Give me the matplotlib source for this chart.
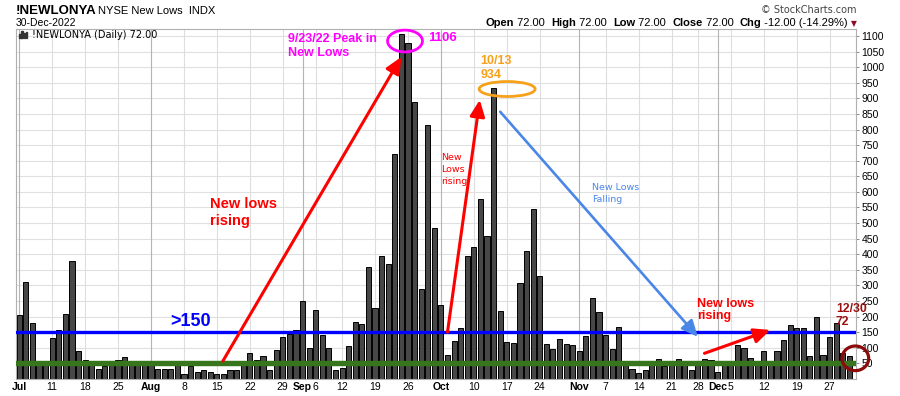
import matplotlib
matplotlib.use("Agg")
import matplotlib.pyplot as plt
from matplotlib.patches import Ellipse, Rectangle

# ---------------- data ----------------
month_names = ["Jul", "Aug", "Sep", "Oct", "Nov", "Dec"]
jul_days = [1, 5, 6, 7, 8, 11, 12, 13, 14, 15, 18, 19, 20, 21, 22, 25, 26, 27, 28, 29]
aug_days = [1, 2, 3, 4, 5, 8, 9, 10, 11, 12, 15, 16, 17, 18, 19, 22, 23, 24, 25, 26, 29, 30, 31]
sep_days = [1, 2, 6, 7, 8, 9, 12, 13, 14, 15, 16, 19, 20, 21, 22, 23, 26, 27, 28, 29, 30]
oct_days = [3, 4, 5, 6, 7, 10, 11, 12, 13, 14, 17, 18, 19, 20, 21, 24, 25, 26, 27, 28, 31]
nov_days = [1, 2, 3, 4, 7, 8, 9, 10, 11, 14, 15, 16, 17, 18, 21, 22, 23, 25, 28, 29, 30]
dec_days = [1, 2, 5, 6, 7, 8, 9, 12, 13, 14, 15, 16, 19, 20, 21, 22, 23, 27, 28, 29, 30]

jul_vals = [204, 310, 178, 50, 50, 130, 156, 207, 378, 89, 60, 50, 31, 40, 50, 60, 69, 50, 50, 50]
aug_vals = [50, 31, 33, 33, 45, 17, 40, 21, 28, 21, 17, 17, 30, 27, 50, 84, 60, 72, 30, 94, 133, 143, 158]
sep_vals = [249, 98, 220, 140, 98, 28, 35, 105, 182, 175, 358, 227, 393, 368, 721, 1106, 1077, 888, 290, 816, 483]
oct_vals = [236, 76, 121, 162, 393, 422, 576, 460, 934, 217, 117, 114, 307, 409, 545, 329, 111, 95, 127, 111, 108]
nov_vals = [89, 139, 261, 214, 142, 95, 165, 50, 32, 20, 27, 50, 65, 40, 50, 65, 50, 27, 50, 65, 62]
dec_vals = [23, 50, 50, 110, 100, 68, 59, 88, 50, 88, 124, 174, 162, 162, 72, 197, 78, 133, 178, 84, 72]

tick_labels = ["Jul", "11", "18", "25", "Aug", "8", "15", "22", "29", "Sep", "6", "12", "19", "26",
               "Oct", "10", "17", "24", "Nov", "7", "14", "21", "28", "Dec", "5", "12", "19", "27"]
tick_dates = [(7, 1), (7, 11), (7, 18), (7, 25), (8, 1), (8, 8), (8, 15), (8, 22), (8, 29),
              (9, 1), (9, 6), (9, 12), (9, 19), (9, 26), (10, 3), (10, 10), (10, 17), (10, 24),
              (11, 1), (11, 7), (11, 14), (11, 21), (11, 28), (12, 1), (12, 5), (12, 12),
              (12, 19), (12, 27)]

level_high = 150
level_low = 50
peak_date = (9, 23)
second_peak_date = (10, 13)

# ---------------- build ----------------
all_days = [jul_days, aug_days, sep_days, oct_days, nov_days, dec_days]
all_vals = [jul_vals, aug_vals, sep_vals, oct_vals, nov_vals, dec_vals]
dates, values = [], []
for m, (dl, vl) in enumerate(zip(all_days, all_vals)):
    for d, v in zip(dl, vl):
        dates.append((m + 7, d))
        values.append(v)
xs = list(range(len(values)))
idx = {d: i for i, d in enumerate(dates)}

W, H = 900, 396
fig = plt.figure(figsize=(W / 100, H / 100), dpi=100)
ax_l, ax_r, ax_t, ax_b = 16, 856, 29.3, 378.9
ax = fig.add_axes([ax_l / W, 1 - ax_b / H, (ax_r - ax_l) / W, (ax_b - ax_t) / H])

SANS = ["Liberation Sans", "DejaVu Sans"]
VERD = ["DejaVu Sans"]

ax.set_xlim(-0.49, 127.0)
ax.set_ylim(0, 1121.6)

# grid
yt = list(range(50, 1101, 50))
for y in yt:
    ax.axhline(y, color="#e0e0e0", lw=0.8, zorder=0)
tick_pos = [idx[d] for d in tick_dates]
for p, lab in zip(tick_pos, tick_labels):
    col = "#b4b4b4" if lab in month_names else "#dedede"
    ax.axvline(p, color=col, lw=0.8, zorder=0)

ax.bar(xs, values, width=0.78, color="#474747", edgecolor="black", linewidth=0.7, zorder=2)

ax.axhline(level_high, color="#0000ff", lw=2.4, zorder=3)
ax.axhline(level_low, color="#38761d", lw=3.9, zorder=3)

# axes styling
for s in ax.spines.values():
    s.set_color("#b0b0b0")
    s.set_linewidth(0.8)
ax.yaxis.tick_right()
ax.set_yticks(yt)
ax.set_yticklabels([str(v) for v in yt], fontfamily=SANS, fontsize=7.5)
ax.tick_params(axis="y", direction="out", length=2.5, width=0.6, color="#777", pad=1.5)
ax.set_xticks(tick_pos)
ax.set_xticklabels(tick_labels, fontfamily=SANS, fontsize=7.5)
ax.tick_params(axis="x", length=0, pad=2.0)
for t in ax.get_xticklabels():
    if t.get_text() in month_names:
        t.set_fontweight("bold")


def arrow(x0, y0, x1, y1, color, lw):
    ax.annotate("", xy=(x1, y1), xytext=(x0, y0),
                arrowprops=dict(arrowstyle="-|>,head_length=0.7,head_width=0.32", color=color,
                                lw=lw, mutation_scale=14, shrinkA=0, shrinkB=0),
                annotation_clip=False, zorder=5)


pk = idx[peak_date]
pk2 = idx[second_peak_date]
last = len(values) - 1

arrow(30.9, 57, pk, 1033, "#ff0000", 2.2)
arrow(65.0, level_high, 69.9, 895, "#ff0000", 2.2)
arrow(73.0, 857, 103.0, 135, "#4a86e8", 1.9)
arrow(104.0, 82, 114.0, 157, "#ff0000", 2.2)

ax.add_patch(Ellipse((pk + 0.55, values[pk] - 22), 5.3, 70, fill=False, ec="#ff00ff", lw=2.0,
                     zorder=5, clip_on=False))
ax.add_patch(Ellipse((pk2 + 2.05, values[pk2] - 4), 8.5, 48, fill=False, ec="#f7a11a", lw=2.0,
                     zorder=5, clip_on=False))
ax.add_patch(Ellipse((last + 0.9, values[last] - 6), 4.05, 79, fill=False, ec="#8b0a0a", lw=2.3,
                     zorder=5, clip_on=False))


def ftext(xp, yp, s, **kw):
    kw.setdefault("va", "baseline")
    kw.setdefault("fontfamily", SANS)
    return fig.text(xp / W, 1 - yp / H, s, **kw)


# header
ftext(16, 13.5, "!NEWLONYA", fontweight="bold", fontsize=9.5)
ftext(97.5, 13.5, "NYSE New Lows  INDX", fontsize=8)
ftext(16, 26.3, "30-Dec-2022", fontsize=7.5)
ftext(32.3, 37.8, "!NEWLONYA (Daily) 72.00", fontsize=7, fontfamily=VERD)
for bx, bh in [(19.0, 4.5), (21.3, 7.0), (23.6, 5.0), (25.9, 6.0)]:
    fig.patches.append(Rectangle((bx / W, 1 - 38.2 / H), 1.5 / W, bh / H, transform=fig.transFigure,
                                 color="#333333", figure=fig))
ftext(856.7, 12.7, "© StockCharts.com", ha="right", color="#444444", fontsize=7, fontfamily=VERD)

# OHLC line right-to-left
pieces = [("Open", "bold", "black"), (" 72.00  ", "normal", "black"), ("High", "bold", "black"),
          (" 72.00  ", "normal", "black"), ("Low", "bold", "black"), (" 72.00  ", "normal", "black"),
          ("Close", "bold", "black"), (" 72.00  ", "normal", "black"), ("Chg", "bold", "black"),
          (" -12.00 (-14.29%) ", "normal", "black"), ("▼", "normal", "#8b0a2a")]
renderer = fig.canvas.get_renderer()
xr = 857.0
for txt, wt, col in reversed(pieces):
    fam = VERD if txt == "▼" else SANS
    fs = 5.5 if txt == "▼" else 8
    t = ftext(xr, 26.3, txt, ha="right", fontweight=wt, color=col, fontsize=fs, fontfamily=fam)
    bb = t.get_window_extent(renderer)
    xr -= bb.width

# annotations
ftext(210, 207.5, "New lows", color="#ff0000", fontweight="bold", fontsize=10.5)
ftext(210, 225, "rising", color="#ff0000", fontweight="bold", fontsize=10.5)
ftext(288.5, 41.7, "9/23/22 Peak in", color="#ff00ff", fontweight="bold", fontsize=9)
ftext(288.5, 55.5, "New Lows", color="#ff00ff", fontweight="bold", fontsize=9)
ftext(428, 40.7, "1106", color="#ff00ff", fontweight="bold", fontsize=9.5)
ftext(480.5, 64.3, "10/13", color="#f7a11a", fontweight="bold", fontsize=9)
ftext(480.5, 77.5, "934", color="#f7a11a", fontweight="bold", fontsize=9)
ftext(441, 160, "New", color="#ff0000", fontsize=6.8, fontfamily=VERD)
ftext(441, 171.8, "Lows", color="#ff0000", fontsize=6.8, fontfamily=VERD)
ftext(441, 183.5, "rising", color="#ff0000", fontsize=6.8, fontfamily=VERD)
ftext(592, 190.5, "New Lows", color="#4a86e8", fontsize=6.8, fontfamily=VERD)
ftext(592, 202.5, "Falling", color="#4a86e8", fontsize=6.8, fontfamily=VERD)
ftext(170.5, 325.5, ">150", color="#0000ff", fontweight="bold", fontsize=13)
ftext(697, 306.7, "New lows", color="#ff0000", fontweight="bold", fontsize=9)
ftext(697, 319.5, "rising", color="#ff0000", fontweight="bold", fontsize=9)
ftext(836, 311.7, "12/30", color="#9a0f0f", fontweight="bold", fontsize=8.8)
ftext(836, 325, "72", color="#9a0f0f", fontweight="bold", fontsize=8.8)

fig.savefig("out.png", dpi=100)
